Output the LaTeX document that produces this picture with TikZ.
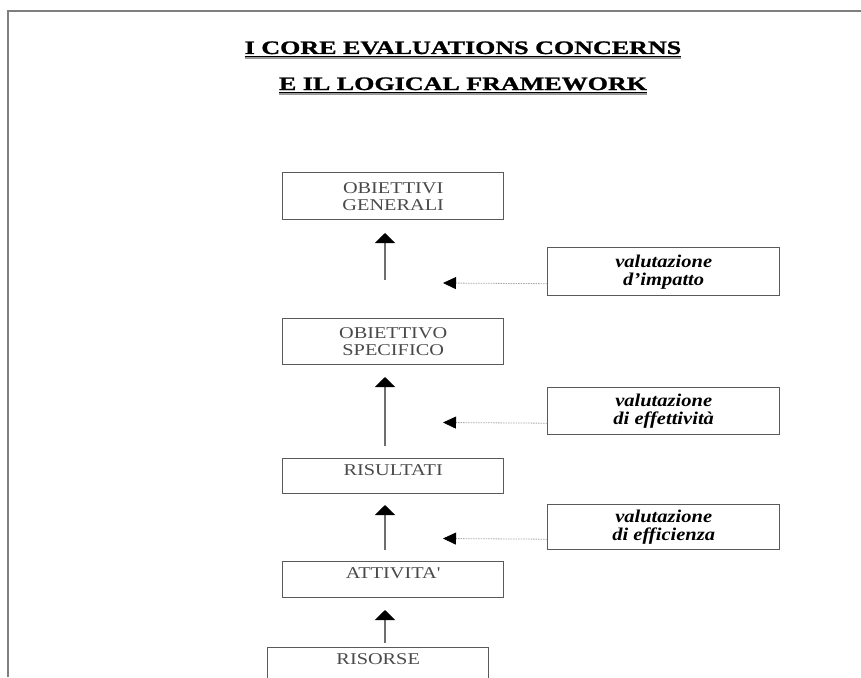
\documentclass[tikz,border=0pt]{standalone}
\usepackage{fontspec}
\usepackage{xcolor}
\usepackage{tikz}
\usetikzlibrary{arrows.meta}
\newfontfamily\titlefont[FakeStretch=1.37,FakeBold=1.2]{Liberation Serif}
\newfontfamily\stagefont[FakeStretch=1.23]{Liberation Serif}
\newfontfamily\evalfont[FakeStretch=1.14]{Liberation Serif}
\definecolor{framegray}{HTML}{7F7F7F}
\definecolor{boxgray}{HTML}{5A5A5A}
\definecolor{textgray}{HTML}{4A4A4A}
\definecolor{stemgray}{HTML}{6E6E6E}
\definecolor{dotgray}{HTML}{A8A8A8}
\definecolor{shadegray}{HTML}{9A9A9A}

\begin{document}
\begin{tikzpicture}[x=1pt,y=-1pt,
    stage/.style={draw=boxgray,line width=1.4pt,anchor=north west,minimum width=221pt,align=center,text=textgray,font=\stagefont\fontsize{16.5}{17}\selectfont},
    evalbox/.style={draw=boxgray,line width=1.4pt,anchor=north west,minimum width=232pt,align=center,font=\evalfont\bfseries\itshape\fontsize{18}{18}\selectfont},
    titletext/.style={anchor=base,inner sep=0pt,font=\titlefont\bfseries\fontsize{19}{23}\selectfont},
    uparrow/.style={draw=stemgray,line width=1.6pt,-{Triangle[width=20pt,length=10pt,color=black]}},
    dotarrow/.style={draw=dotgray,line width=0.8pt,dash pattern=on 1.5pt off 1pt,-{Triangle[width=12pt,length=13pt,color=black]}}]
    \useasboundingbox (0,0) rectangle (861,677);
    \fill[white] (0,0) rectangle (861,677);
    \draw[framegray,line width=2pt] (8,677) -- (8,11) -- (861,11);

    \node[titletext] (title1) at (463,54) {I CORE EVALUATIONS CONCERNS};
    \node[titletext] (title2) at (463,90) {E IL LOGICAL FRAMEWORK};
    \draw[shadegray,line width=1.2pt] ([yshift=-4pt]title1.base west) -- ([yshift=-4pt]title1.base east);
    \draw[shadegray,line width=1.2pt] ([yshift=-4pt]title2.base west) -- ([yshift=-4pt]title2.base east);
    \draw[line width=1.5pt] ([yshift=-2.5pt]title1.base west) -- ([yshift=-2.5pt]title1.base east);
    \draw[line width=1.5pt] ([yshift=-2.5pt]title2.base west) -- ([yshift=-2.5pt]title2.base east);

    \node[stage,minimum height=47pt] (gen) at (282,172) {OBIETTIVI\\GENERALI};
    \node[stage,minimum height=46pt] (spec) at (282,318) {OBIETTIVO\\SPECIFICO};
    \node[stage,minimum height=35pt,text height=11pt,text depth=12pt] (ris) at (282,458) {RISULTATI};
    \node[stage,minimum height=36pt,text height=11pt,text depth=13pt] (att) at (282,561) {ATTIVITA'};
    \node[stage,minimum height=60pt,text height=11pt,text depth=37pt] (res) at (267,647) {RISORSE};

    \node[evalbox,minimum height=48pt] (imp) at (547,247) {valutazione\\d’impatto};
    \node[evalbox,minimum height=47pt] (eff) at (547,387) {valutazione\\di effettività};
    \node[evalbox,minimum height=45pt] (effic) at (547,504) {valutazione\\di efficienza};

    \coordinate (up1a) at (385,280);
    \coordinate (up1b) at (385,233);
    \coordinate (up2a) at (385,446);
    \coordinate (up2b) at (385,377);
    \coordinate (up3a) at (385,550);
    \coordinate (up3b) at (385,505);
    \coordinate (up4a) at (385,643);
    \coordinate (up4b) at (385,610);
    \draw[uparrow] (up1a) -- (up1b);
    \draw[uparrow] (up2a) -- (up2b);
    \draw[uparrow] (up3a) -- (up3b);
    \draw[uparrow] (up4a) -- (up4b);

    \coordinate (imptip) at (443,283);
    \coordinate (efftip) at (443,422.5);
    \coordinate (effictip) at (443,538.5);
    \draw[dotarrow] ([yshift=-12pt]imp.west) -- (imptip);
    \draw[dotarrow] ([yshift=-12pt]eff.west) -- (efftip);
    \draw[dotarrow] ([yshift=-12pt]effic.west) -- (effictip);
\end{tikzpicture}
\end{document}
